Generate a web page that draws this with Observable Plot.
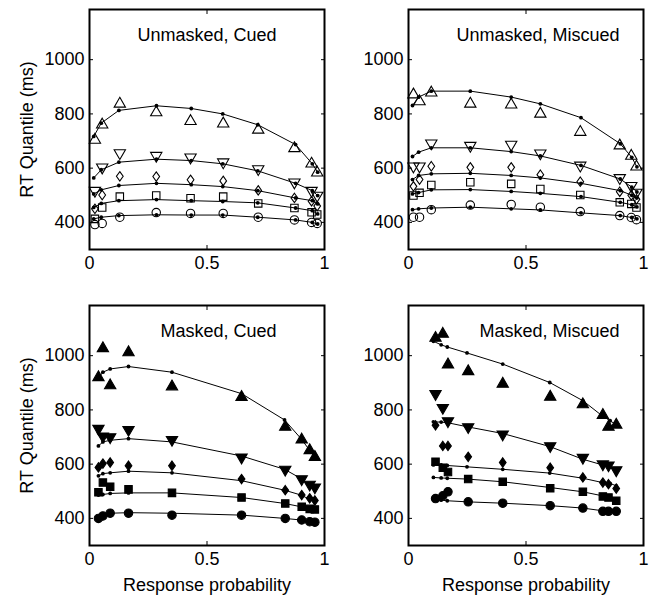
<!DOCTYPE html>
<html><head><meta charset="utf-8">
<script src="https://cdn.jsdelivr.net/npm/d3@7"></script>
<script src="https://cdn.jsdelivr.net/npm/@observablehq/plot@0.6"></script>
<style>
html,body{margin:0;padding:0;background:#fff;}
#chart{position:relative;width:652px;height:596px;overflow:hidden;background:#fff;}
</style></head><body><div id="chart"></div><script>
const quantileLevels = [0.1, 0.3, 0.5, 0.7, 0.9];
const xTicks = [0, 0.5, 1];
const yTicks = [400, 600, 800, 1000];
const yDomain = [300, 1185];
const panelTitles = ["Unmasked, Cued", "Unmasked, Miscued", "Masked, Cued", "Masked, Miscued"];
const xLabel = "Response probability";
const yLabel = "RT Quantile (ms)";

// Unmasked, Cued  (rows: .1 .3 .5 .7 .9 quantiles)
const ucModelP = [0.018, 0.05, 0.125, 0.285, 0.433, 0.567, 0.716, 0.877, 0.948, 0.971];
const ucModelRT = [
  [413, 419, 425, 428, 427, 427, 419, 409, 400, 394],
  [455, 470, 480, 484, 480, 477, 472, 453, 443, 431],
  [505, 520, 536, 544, 539, 532, 517, 490, 480, 468],
  [564, 594, 622, 633, 628, 616, 590, 544, 517, 499],
  [717, 766, 813, 830, 820, 800, 760, 687, 616, 585]
];
const ucDataP = [0.023, 0.054, 0.129, 0.284, 0.43, 0.569, 0.718, 0.872, 0.945, 0.969];
const ucDataRT = [
  [392, 396, 419, 436, 433, 433, 419, 409, 400, 396],
  [413, 455, 495, 499, 489, 495, 470, 453, 437, 429],
  [450, 501, 570, 569, 557, 553, 518, 490, 478, 460],
  [517, 603, 656, 646, 640, 622, 597, 548, 517, 499],
  [704, 760, 837, 805, 773, 764, 741, 673, 616, 583]
];

// Unmasked, Miscued
const umModelP = [0.017, 0.043, 0.097, 0.263, 0.437, 0.561, 0.734, 0.901, 0.95, 0.972];
const umModelRT = [
  [447, 450, 453, 456, 450, 446, 435, 425, 418, 413],
  [505, 510, 520, 521, 514, 507, 495, 474, 465, 457],
  [558, 573, 579, 581, 573, 564, 544, 517, 500, 490],
  [643, 659, 675, 675, 661, 645, 610, 560, 530, 512],
  [831, 862, 884, 884, 862, 837, 786, 690, 640, 605]
];
const umDataP = [0.021, 0.047, 0.097, 0.263, 0.437, 0.561, 0.731, 0.899, 0.948, 0.97];
const umDataRT = [
  [419, 419, 447, 464, 466, 456, 440, 425, 418, 410],
  [499, 509, 538, 548, 542, 523, 501, 474, 468, 455],
  [533, 558, 607, 603, 603, 576, 550, 513, 500, 485],
  [607, 607, 692, 683, 687, 655, 610, 564, 535, 510],
  [871, 846, 878, 837, 834, 800, 733, 683, 645, 605]
];

// Masked, Cued
const mcModelP = [0.038, 0.057, 0.088, 0.166, 0.351, 0.647, 0.83, 0.9, 0.937, 0.959];
const mcModelRT = [
  [406, 412, 419, 421, 419, 412, 400, 394, 388, 388],
  [486, 488, 492, 494, 494, 477, 455, 443, 435, 433],
  [557, 565, 568, 574, 568, 539, 504, 486, 470, 464],
  [667, 682, 688, 694, 682, 630, 581, 547, 522, 514],
  [918, 939, 951, 960, 939, 860, 763, 694, 651, 624]
];
const mcDataP = [0.038, 0.057, 0.088, 0.166, 0.351, 0.647, 0.833, 0.903, 0.937, 0.959];
const mcDataRT = [
  [400, 409, 419, 419, 412, 412, 400, 394, 388, 386],
  [496, 532, 517, 507, 494, 477, 455, 443, 435, 433],
  [588, 602, 606, 594, 594, 545, 504, 486, 474, 466],
  [731, 703, 700, 727, 690, 625, 580, 545, 525, 515],
  [920, 1027, 890, 1012, 886, 847, 737, 690, 651, 626]
];

// Masked, Miscued
const mmModelP = [0.106, 0.139, 0.165, 0.249, 0.401, 0.601, 0.742, 0.826, 0.858, 0.884];
const mmModelRT = [
  [471, 467, 465, 461, 456, 447, 438, 428, 426, 426],
  [551, 549, 548, 545, 535, 514, 498, 483, 477, 471],
  [597, 597, 595, 590, 581, 567, 548, 532, 529, 520],
  [756, 755, 753, 738, 713, 665, 618, 597, 590, 579],
  [1053, 1040, 1032, 1010, 969, 901, 834, 777, 760, 745]
];
const mmDataP = [0.115, 0.146, 0.168, 0.254, 0.401, 0.603, 0.742, 0.827, 0.851, 0.884];
const mmDataRT = [
  [473, 483, 498, 461, 456, 447, 438, 426, 426, 426],
  [609, 587, 571, 545, 535, 511, 498, 481, 477, 465],
  [743, 667, 667, 627, 606, 587, 551, 532, 526, 510],
  [859, 808, 759, 737, 710, 667, 624, 600, 596, 578],
  [1065, 1080, 967, 942, 896, 848, 820, 781, 737, 745]
];

// marker shapes (MATLAB style: o, s, d, v, ^)
const sqrt3 = Math.sqrt(3);
const triUp = {draw(ctx, size) { const y = -Math.sqrt(size / (sqrt3 * 3)); ctx.moveTo(0, y * 2); ctx.lineTo(-sqrt3 * y, -y); ctx.lineTo(sqrt3 * y, -y); ctx.closePath(); }};
const triDown = {draw(ctx, size) { const y = -Math.sqrt(size / (sqrt3 * 3)); ctx.moveTo(0, -y * 2); ctx.lineTo(-sqrt3 * y, y); ctx.lineTo(sqrt3 * y, y); ctx.closePath(); }};
const thinDiamond = {draw(ctx, size) { const r = Math.sqrt(size / Math.PI); ctx.moveTo(0, -1.12 * r); ctx.lineTo(0.8 * r, 0); ctx.lineTo(0, 1.12 * r); ctx.lineTo(-0.8 * r, 0); ctx.closePath(); }};
const circleSym = {draw(ctx, size) { const r = Math.sqrt(size / Math.PI); ctx.moveTo(r, 0); ctx.arc(0, 0, r, 0, 2 * Math.PI); }};
const squareSym = {draw(ctx, size) { const s = Math.sqrt(size) * 0.5; ctx.rect(-s, -s, 2 * s, 2 * s); }};
const quantileSymbols = [circleSym, squareSym, thinDiamond, triDown, triUp];

const panels = [
  {title: panelTitles[0], modelP: ucModelP, modelRT: ucModelRT, dataP: ucDataP, dataRT: ucDataRT, filled: false, left: 0, top: 0, width: 326, height: 298, mr: 2, mb: 49, titleDx: 48, yLab: true, xLab: false},
  {title: panelTitles[1], modelP: umModelP, modelRT: umModelRT, dataP: umDataP, dataRT: umDataRT, filled: false, left: 319, top: 0, width: 333, height: 298, mr: 9, mb: 49, titleDx: 48, yLab: false, xLab: false},
  {title: panelTitles[2], modelP: mcModelP, modelRT: mcModelRT, dataP: mcDataP, dataRT: mcDataRT, filled: true, left: 0, top: 296, width: 326, height: 300, mr: 2, mb: 51, titleDx: 71, yLab: true, xLab: true},
  {title: panelTitles[3], modelP: mmModelP, modelRT: mmModelRT, dataP: mmDataP, dataRT: mmDataRT, filled: true, left: 319, top: 296, width: 333, height: 300, mr: 9, mb: 51, titleDx: 71, yLab: false, xLab: true}
];

const font = "'Liberation Sans', Arial, Helvetica, sans-serif";
const chart = document.getElementById("chart");

for (const cfg of panels) {
  const model = [], data = [];
  cfg.modelRT.forEach((row, qi) => row.forEach((rt, i) => model.push({p: cfg.modelP[i], rt, q: quantileLevels[qi]})));
  cfg.dataRT.forEach((row, qi) => row.forEach((rt, i) => data.push({p: cfg.dataP[i], rt, q: quantileLevels[qi]})));
  const marks = [
    Plot.axisX({anchor: "bottom", ticks: xTicks, tickSize: 0, tickPadding: 7, tickFormat: d => String(d), label: null, fill: "black"}),
    Plot.axisX({anchor: "bottom", ticks: xTicks, tickSize: 4, dy: -4, fill: "none", label: null, stroke: "black"}),
    Plot.axisX({anchor: "top", ticks: xTicks, tickSize: 4, dy: 4, fill: "none", label: null, stroke: "black"}),
    Plot.axisY({anchor: "left", ticks: yTicks, tickSize: 0, tickPadding: 5, tickFormat: d => String(d), label: null, fill: "black"}),
    Plot.axisY({anchor: "left", ticks: yTicks, tickSize: 4, dx: 4, fill: "none", label: null, stroke: "black"}),
    Plot.axisY({anchor: "right", ticks: yTicks, tickSize: 4, dx: -4, fill: "none", label: null, stroke: "black"}),
    Plot.line(model, {x: "p", y: "rt", z: "q", stroke: "black", strokeWidth: 1}),
    Plot.dot(model, {x: "p", y: "rt", r: 1.9, fill: "black", stroke: null}),
    ...quantileSymbols.map((sym, qi) => Plot.dot(data.filter(d => d.q === quantileLevels[qi]), {
      x: "p", y: "rt", symbol: sym, r: 4.2, stroke: "black", strokeWidth: 1.1, fill: cfg.filled ? "black" : "none"
    })),
    Plot.frame({stroke: "black", strokeWidth: 2}),
    Plot.text([cfg.title], {frameAnchor: "top-left", dx: cfg.titleDx, dy: 26, text: d => d, textAnchor: "start", lineAnchor: "middle", fontSize: 18, fill: "black"})
  ];
  if (cfg.yLab) marks.push(Plot.text([yLabel], {frameAnchor: "left", dx: -62, rotate: -90, text: d => d, textAnchor: "middle", lineAnchor: "middle", fontSize: 18, fill: "black"}));
  if (cfg.xLab) marks.push(Plot.text([xLabel], {frameAnchor: "bottom", dy: 40, text: d => d, textAnchor: "middle", lineAnchor: "middle", fontSize: 18, fill: "black"}));
  const svg = Plot.plot({
    width: cfg.width, height: cfg.height,
    marginLeft: 89, marginRight: cfg.mr, marginTop: 9, marginBottom: cfg.mb,
    x: {domain: [0, 1], axis: null},
    y: {domain: yDomain, axis: null},
    style: {fontFamily: font, fontSize: "18px", color: "black", background: "transparent", overflow: "visible"},
    marks
  });
  svg.style.position = "absolute";
  svg.style.left = cfg.left + "px";
  svg.style.top = cfg.top + "px";
  chart.appendChild(svg);
}
</script></body></html>
